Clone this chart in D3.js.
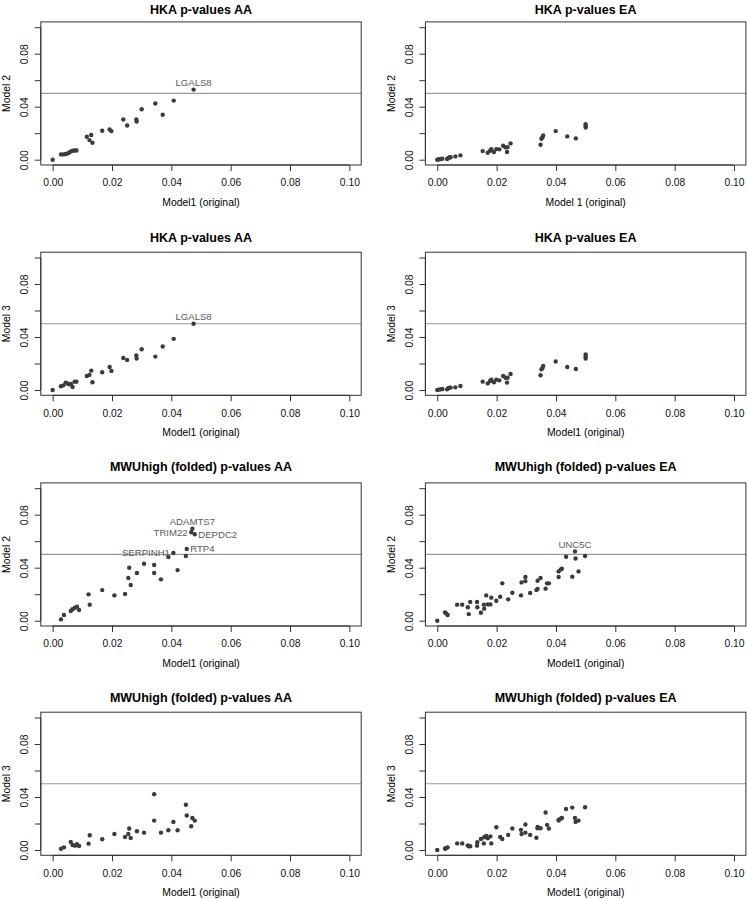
<!DOCTYPE html>
<html><head><meta charset="utf-8">
<script src="https://cdn.jsdelivr.net/npm/d3@7"></script>
<style>body{margin:0;background:#fff}svg{display:block}text{font-family:"Liberation Sans",Arial,sans-serif}</style>
</head><body>
<svg id="chart" width="747" height="899"></svg>
<script>
// ---- data ----
const hkaAA_m1 = [0,0.0028,0.0036,0.0044,0.0051,0.0056,0.0062,0.0067,0.0074,0.0080,0.0115,0.0124,0.0130,0.0134,0.0167,0.0192,0.0198,0.0238,0.0251,0.0282,0.0283,0.0300,0.0346,0.0371,0.0408,0.0475];
const hkaAA_m2 = [0,0.0040,0.0040,0.0043,0.0048,0.0055,0.0063,0.0068,0.0070,0.0070,0.0173,0.0148,0.0186,0.0128,0.0218,0.0228,0.0216,0.0303,0.0258,0.0303,0.0288,0.0381,0.0424,0.0339,0.0446,0.0529];
const hkaAA_m3 = [0,0.0028,0.0035,0.0056,0.0048,0.0043,0.0045,0.0023,0.0063,0.0063,0.0106,0.0114,0.0146,0.0058,0.0134,0.0174,0.0144,0.0242,0.0227,0.0260,0.0237,0.0308,0.0252,0.0328,0.0386,0.0500];
const hkaAA_genes = ["","","","","","","","","","","","","","","","","","","","","","","","","","LGALS8"];

const hkaEA_m1 = [0,0.0006,0.0011,0.0017,0.0033,0.0037,0.0042,0.0045,0.0061,0.0078,0.0153,0.0170,0.0178,0.0182,0.0191,0.0199,0.0209,0.0222,0.0230,0.0235,0.0237,0.0247,0.0348,0.0351,0.0354,0.0357,0.0399,0.0438,0.0467,0.0500,0.0500,0.0500];
const hkaEA_m2 = [0,0.0003,0.0005,0.0008,0.0005,0.0013,0.0018,0.0018,0.0025,0.0033,0.0065,0.0053,0.0068,0.0080,0.0058,0.0080,0.0078,0.0105,0.0093,0.0058,0.0095,0.0123,0.0113,0.0158,0.0168,0.0183,0.0216,0.0176,0.0161,0.0243,0.0256,0.0268];
const hkaEA_m3 = [0,0.0003,0.0005,0.0008,0.0005,0.0013,0.0018,0.0018,0.0020,0.0030,0.0063,0.0050,0.0068,0.0078,0.0058,0.0078,0.0073,0.0106,0.0093,0.0056,0.0093,0.0121,0.0111,0.0156,0.0164,0.0182,0.0215,0.0174,0.0159,0.0237,0.0252,0.0268];

const mwuAA_m1 = [0.0028,0.0038,0.0061,0.0067,0.0075,0.0082,0.0089,0.0121,0.0125,0.0167,0.0208,0.0244,0.0255,0.0258,0.0263,0.0284,0.0308,0.0342,0.0342,0.0365,0.0390,0.0407,0.0421,0.0449,0.0452,0.0471,0.0467,0.0479];
const mwuAA_m2 = [0.0010,0.0043,0.0073,0.0086,0.0098,0.0106,0.0081,0.0199,0.0121,0.0231,0.0191,0.0201,0.0322,0.0400,0.0269,0.0360,0.0430,0.0420,0.0360,0.0312,0.0481,0.0511,0.0382,0.0488,0.0541,0.0694,0.0667,0.0652];
const mwuAA_m3 = [0.0010,0.0020,0.0061,0.0038,0.0033,0.0043,0.0030,0.0048,0.0111,0.0081,0.0121,0.0098,0.0121,0.0162,0.0091,0.0141,0.0131,0.0421,0.0222,0.0131,0.0149,0.0212,0.0149,0.0341,0.0260,0.0242,0.0179,0.0222];
const mwuAA_genes = ["","","","","","","","","","","","","","","","","","","","","","SERPINH1","","","RTP4","ADAMTS7","TRIM22","DEPDC2"];
const mwuAA_pos = ["","","","","","","","","","","","","","","","","","","","","","left","","","right","above","left","right"];

const mwuEA_m1 = [0,0.0026,0.0030,0.0035,0.0067,0.0084,0.0103,0.0106,0.0111,0.0134,0.0135,0.0147,0.0157,0.0158,0.0165,0.0170,0.0179,0.0182,0.0199,0.0212,0.0219,0.0239,0.0253,0.0282,0.0284,0.0297,0.0297,0.0313,0.0334,0.0338,0.0338,0.0348,0.0365,0.0370,0.0376,0.0409,0.0409,0.0416,0.0420,0.0434,0.0455,0.0464,0.0466,0.0476,0.0498];
const mwuEA_m2 = [0,0.0063,0.0055,0.0043,0.0121,0.0121,0.0101,0.0050,0.0141,0.0141,0.0101,0.0060,0.0121,0.0091,0.0191,0.0123,0.0123,0.0174,0.0151,0.0181,0.0282,0.0161,0.0211,0.0191,0.0289,0.0299,0.0330,0.0209,0.0231,0.0239,0.0302,0.0322,0.0242,0.0282,0.0282,0.0330,0.0372,0.0387,0.0392,0.0483,0.0332,0.0523,0.0470,0.0372,0.0488];
const mwuEA_m3 = [0,0.0010,0.0015,0.0020,0.0050,0.0050,0.0035,0.0028,0.0028,0.0033,0.0058,0.0083,0.0050,0.0096,0.0106,0.0088,0.0103,0.0050,0.0172,0.0098,0.0083,0.0114,0.0162,0.0152,0.0121,0.0192,0.0131,0.0114,0.0093,0.0174,0.0164,0.0164,0.0283,0.0190,0.0162,0.0227,0.0222,0.0237,0.0242,0.0310,0.0320,0.0242,0.0212,0.0222,0.0323];
const mwuEA_genes = ["","","","","","","","","","","","","","","","","","","","","","","","","","","","","","","","","","","","","","","","","","UNC5C","","",""];

const xTicks = [0,0.02,0.04,0.06,0.08,0.10];
const yTicks = [0,0.02,0.04,0.06,0.08,0.10];
const yTickLabels = ["0.00","","0.04","","0.08",""];
const threshold = 0.05;

const panels = [
  {title:"HKA p-values AA", xl:"Model1 (original)", yl:"Model 2", x:hkaAA_m1, y:hkaAA_m2, g:hkaAA_genes, p:null, col:0, row:0},
  {title:"HKA p-values EA", xl:"Model 1 (original)", yl:"Model 2", x:hkaEA_m1, y:hkaEA_m2, g:null, p:null, col:1, row:0},
  {title:"HKA p-values AA", xl:"Model1 (original)", yl:"Model 3", x:hkaAA_m1, y:hkaAA_m3, g:hkaAA_genes, p:null, col:0, row:1},
  {title:"HKA p-values EA", xl:"Model1 (original)", yl:"Model 3", x:hkaEA_m1, y:hkaEA_m3, g:null, p:null, col:1, row:1},
  {title:"MWUhigh (folded) p-values AA", xl:"Model1 (original)", yl:"Model 2", x:mwuAA_m1, y:mwuAA_m2, g:mwuAA_genes, p:mwuAA_pos, col:0, row:2},
  {title:"MWUhigh (folded) p-values EA", xl:"Model1 (original)", yl:"Model 2", x:mwuEA_m1, y:mwuEA_m2, g:mwuEA_genes, p:null, col:1, row:2},
  {title:"MWUhigh (folded) p-values AA", xl:"Model1 (original)", yl:"Model 3", x:mwuAA_m1, y:mwuAA_m3, g:null, p:null, col:0, row:3},
  {title:"MWUhigh (folded) p-values EA", xl:"Model1 (original)", yl:"Model 3", x:mwuEA_m1, y:mwuEA_m3, g:null, p:null, col:1, row:3}
];

// ---- layout ----
const colX = [[40.8,361.2],[425.4,745.9]];
const rowY0 = [159.7,390,620.7,850];
const rowTitleY = [10,237.3,466.7,697.3];
const dom = [-0.004,0.104];
const pxPerUnit = 1325;

const svg = d3.select("#chart");
const axisCol = "#333";

panels.forEach(pn=>{
  const x = d3.scaleLinear().domain(dom).range(colX[pn.col]);
  const y0 = rowY0[pn.row];
  const y = d3.scaleLinear().domain(dom).range([y0 + 0.004*pxPerUnit, y0 - 0.104*pxPerUnit]);
  const g = svg.append("g");
  const L = x.range()[0], R = x.range()[1], B = y.range()[0], T = y.range()[1];

  // title
  g.append("text").attr("x",(L+R)/2).attr("y",rowTitleY[pn.row]).attr("dy","0.35em")
    .attr("text-anchor","middle").attr("font-weight","bold").attr("font-size","12.5px").attr("fill","#000").text(pn.title);

  // threshold line
  g.append("line").attr("x1",L).attr("x2",R).attr("y1",y(threshold)).attr("y2",y(threshold))
    .attr("stroke","#999").attr("stroke-width",1.2);

  // box
  g.append("rect").attr("x",L).attr("y",T).attr("width",R-L).attr("height",B-T)
    .attr("fill","none").attr("stroke",axisCol).attr("stroke-width",1);

  // x axis
  const xa = g.append("g").attr("transform",`translate(0,${B})`)
    .call(d3.axisBottom(x).tickValues(xTicks).tickFormat(d3.format(".2f")).tickSize(6).tickSizeOuter(0).tickPadding(8));
  xa.select(".domain").remove();
  xa.append("line").attr("x1",x(xTicks[0])).attr("x2",x(xTicks[xTicks.length-1])).attr("stroke",axisCol);
  xa.selectAll(".tick line").attr("stroke",axisCol);
  xa.selectAll(".tick text").attr("font-size","10.3px").attr("fill","#111").attr("font-family","Liberation Sans, Arial, sans-serif");

  // y axis
  const ya = g.append("g").attr("transform",`translate(${L},0)`)
    .call(d3.axisLeft(y).tickValues(yTicks).tickFormat((d,i)=>yTickLabels[i]).tickSize(6).tickSizeOuter(0));
  ya.select(".domain").remove();
  ya.append("line").attr("y1",y(yTicks[0])).attr("y2",y(yTicks[yTicks.length-1])).attr("stroke",axisCol);
  ya.selectAll(".tick line").attr("stroke",axisCol);
  ya.selectAll(".tick text").attr("font-size","10.3px").attr("fill","#111").attr("font-family","Liberation Sans, Arial, sans-serif")
    .attr("transform","rotate(-90)").attr("x",0).attr("y",-16).attr("dy","0.35em").attr("text-anchor","middle");

  // axis titles
  g.append("text").attr("x",(L+R)/2).attr("y",y0+42.5).attr("dy","0.35em").attr("text-anchor","middle")
    .attr("font-size","10.4px").attr("fill","#000").text(pn.xl);
  g.append("text").attr("transform",`translate(${L-34},${(T+B)/2}) rotate(-90)`).attr("dy","0.35em").attr("text-anchor","middle")
    .attr("font-size","10.4px").attr("fill","#000").text(pn.yl);

  // points
  const data = pn.x.map((v,i)=>({x:v,y:pn.y[i],g:pn.g?pn.g[i]:"",p:pn.p?pn.p[i]:"above"}));
  g.selectAll("circle").data(data).join("circle")
    .attr("cx",d=>x(d.x)).attr("cy",d=>y(d.y)).attr("r",2.2).attr("fill","#3b3b3b");

  // gene labels
  g.selectAll("text.gene").data(data.filter(d=>d.g)).join("text").attr("class","gene")
    .attr("font-size","9.6px").attr("fill","#5a5a5a")
    .attr("x",d=>d.p==="left"?x(d.x)-3.5:d.p==="right"?x(d.x)+3.5:x(d.x))
    .attr("y",d=>d.p==="above"?y(d.y)-7:y(d.y))
    .attr("dy","0.35em")
    .attr("text-anchor",d=>d.p==="left"?"end":d.p==="right"?"start":"middle")
    .text(d=>d.g);
});
</script>
</body></html>
